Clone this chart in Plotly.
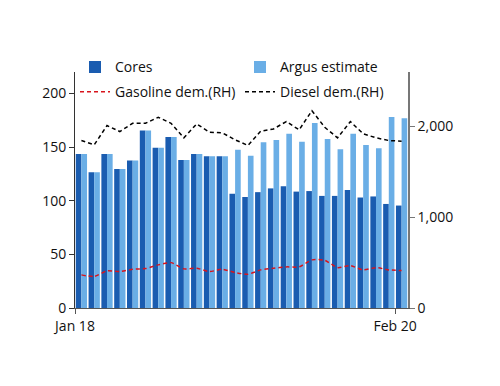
import numpy as np
import plotly.graph_objects as go

months = ["Jan 18", "Feb 18", "Mar 18", "Apr 18", "May 18", "Jun 18", "Jul 18", "Aug 18",
          "Sep 18", "Oct 18", "Nov 18", "Dec 18", "Jan 19", "Feb 19", "Mar 19", "Apr 19",
          "May 19", "Jun 19", "Jul 19", "Aug 19", "Sep 19", "Oct 19", "Nov 19", "Dec 19",
          "Jan 20", "Feb 20"]

cores = [143.5, 126.5, 143.5, 129.5, 137.5, 165.5, 149.5, 159.5, 138, 143.5, 141.5, 141.5,
         106.5, 103.5, 108, 111.5, 113.5, 108.5, 109, 104.5, 104.5, 110, 103, 104, 97, 95.5]
argus = [143.5, 126.5, 143.5, 129.5, 137.5, 165.5, 149.5, 159.5, 138, 143.5, 141.5, 141.5,
         147.5, 142, 154.5, 156.5, 162.5, 155, 172.5, 157.5, 148, 162.5, 152, 149, 178, 177]
gasoline = [365, 347, 409, 401, 427, 434, 475, 500, 431, 438, 401, 427,
            391, 372, 420, 438, 453, 453, 530, 526, 445, 467, 420, 445, 420, 413]
diesel = [1845, 1798, 2010, 1944, 2035, 2035, 2101, 2035, 1875, 2028, 1937, 1930,
          1853, 1791, 1948, 1973, 2054, 1963, 2174, 1991, 1875, 2054, 1919, 1875, 1845, 1838]

tick_labels = ["Jan 18", "Feb 20"]

x = np.arange(len(months)) + 0.5
tickvals = [months.index(t) for t in tick_labels]

FONT = "Open Sans"
fig = go.Figure()
fig.add_trace(go.Bar(x=x, y=cores, name="Cores", marker=dict(color="#1a5cb0", line=dict(width=0)),
                     legend="legend"))
fig.add_trace(go.Bar(x=x, y=argus, name="Argus estimate", marker=dict(color="#6aaee6", line=dict(width=0)),
                     legend="legend"))
fig.add_trace(go.Scatter(x=x, y=gasoline, name="Gasoline dem.(RH)", mode="lines", yaxis="y2",
                         line=dict(color="#d8141c", width=1.5, dash="4px,3px", shape="spline", smoothing=0.6),
                         legend="legend2"))
fig.add_trace(go.Scatter(x=x, y=diesel, name="Diesel dem.(RH)", mode="lines", yaxis="y2",
                         line=dict(color="#000000", width=1.5, dash="4px,3px"),
                         legend="legend2"))

legend_common = dict(orientation="h", xanchor="left", yanchor="middle", bgcolor="rgba(0,0,0,0)",
                     font=dict(family=FONT, size=14, color="#111"), entrywidthmode="pixels",
                     entrywidth=120, itemwidth=30, tracegroupgap=0, borderwidth=0)

fig.update_layout(
    width=500, height=386,
    margin=dict(l=67, r=100, t=64, b=86, autoexpand=False),
    paper_bgcolor="white", plot_bgcolor="white",
    barmode="group", bargap=0.12, bargroupgap=0,
    font=dict(family=FONT, size=14, color="#111"),
    showlegend=True,
    legend=dict(x=0.0, y=1.02, **legend_common),
    legend2=dict(x=0.0, y=0.915, **legend_common),
    xaxis=dict(range=[0, len(months)], tickmode="array", tickvals=tickvals, ticktext=tick_labels,
               showgrid=False, zeroline=False, showline=True, linecolor="#555", linewidth=1,
               ticks="outside", ticklen=5, tickcolor="#555", tickfont=dict(size=14)),
    yaxis=dict(range=[0, 220], tickvals=[0, 50, 100, 150, 200], showgrid=False, zeroline=False,
               showline=True, linecolor="#333", linewidth=1, ticks="outside", ticklen=5,
               tickcolor="#333", tickfont=dict(size=14)),
    yaxis2=dict(range=[0, 2600], overlaying="y", side="right", tickvals=[0, 1000, 2000],
                tickformat=",", showgrid=False, zeroline=False, showline=True, linecolor="#777",
                linewidth=1.5, ticks="outside", ticklen=5, tickcolor="#777", tickfont=dict(size=14)),
)

fig.write_html("out.html")
